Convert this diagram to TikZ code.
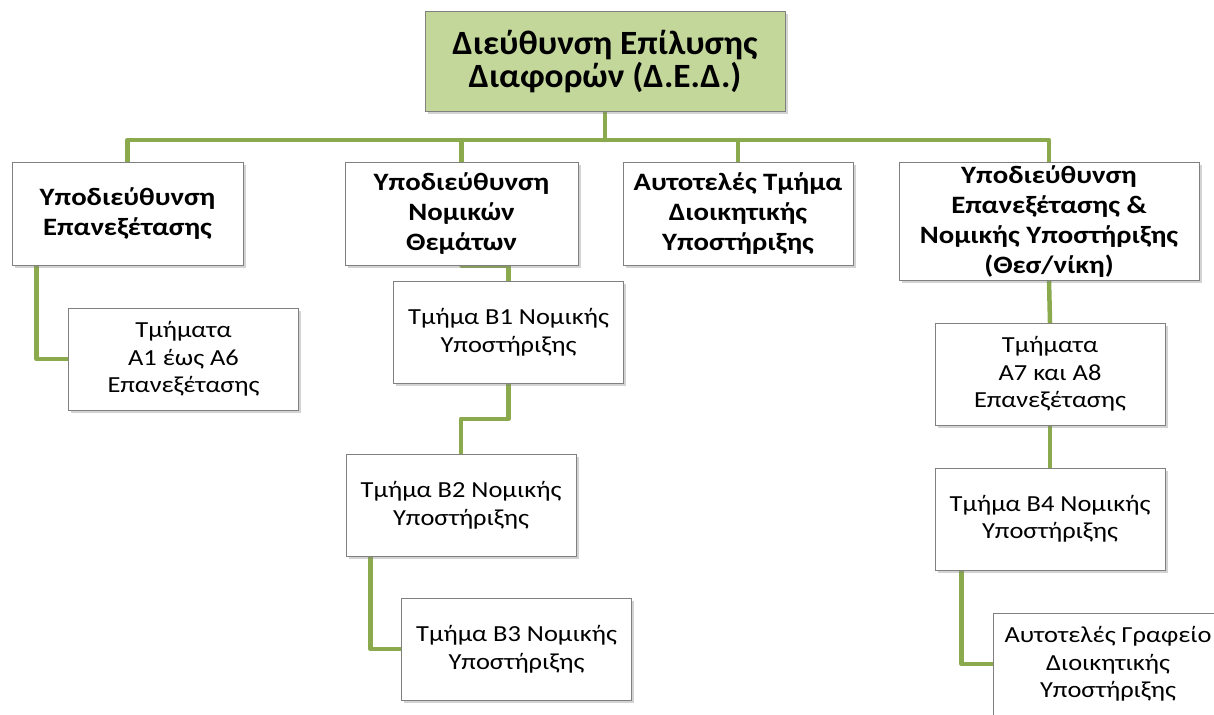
\documentclass[tikz,border=0pt]{standalone}
\usepackage{fontspec}
\setmainfont{Carlito}[FakeStretch=1.15]
\newfontfamily\headfont{Carlito}[FakeStretch=1.04]
\usetikzlibrary{calc,shadows,backgrounds}
\definecolor{linkgreen}{RGB}{139,170,78}
\definecolor{headfill}{RGB}{196,215,155}
\definecolor{boxgray}{RGB}{128,128,128}
\tikzset{
    every picture/.style={line width=0.5pt},
    box/.style={rectangle,draw=boxgray,line width=1pt,fill=white,align=center,inner sep=2pt,
        drop shadow={shadow xshift=2.5pt,shadow yshift=-2.5pt,opacity=0.35}},
    head/.style={box,fill=headfill,minimum width=360pt,minimum height=100pt,
        font=\headfont\fontsize{34}{33}\selectfont\bfseries},
    subdir/.style={box,minimum width=231pt,minimum height=102pt,
        font=\fontsize{25}{30}\selectfont\bfseries},
    dept/.style={box,minimum width=230pt,minimum height=102pt,
        font=\fontsize{23}{27.5}\selectfont},
    link/.style={draw=linkgreen,line width=4.5pt,line cap=round,line join=round}
}

\begin{document}
\begin{tikzpicture}[x=1pt,y=-1pt]
    \clip (0,0) rectangle (1214,714);
    \useasboundingbox (0,0) rectangle (1214,714);

    % Direction
    \node[head] (ded) at (605,62) {Διεύθυνση Επίλυσης\\Διαφορών (Δ.Ε.Δ.)};

    % Sub-directions
    \node[subdir] (sdA) at (127.5,214) {Υποδιεύθυνση\\Επανεξέτασης};
    \node[subdir,minimum width=233pt] (sdB) at (461.5,214) {Υποδιεύθυνση\\Νομικών\\Θεμάτων};
    \node[subdir,minimum width=230pt] (atC) at (738,214) {Αυτοτελές Τμήμα\\Διοικητικής\\Υποστήριξης};
    \node[subdir,minimum width=300pt,minimum height=117pt] (sdD) at (1049,221.5)
        {Υποδιεύθυνση\\Επανεξέτασης \&\\Νομικής Υποστήριξης\\(Θεσ/νίκη)};

    % Departments
    \node[dept] (tmA) at (183.5,359) {Τμήματα\\Α1 έως Α6\\Επανεξέτασης};
    \node[dept] (tmB1) at (508.5,332.5) {Τμήμα Β1 Νομικής\\Υποστήριξης};
    \node[dept] (tmB2) at (461,505) {Τμήμα Β2 Νομικής\\Υποστήριξης};
    \node[dept] (tmB3) at (516.5,649) {Τμήμα Β3 Νομικής\\Υποστήριξης};
    \node[dept] (tmD1) at (1050,374) {Τμήματα\\Α7 και Α8\\Επανεξέτασης};
    \node[dept] (tmD2) at (1050,519) {Τμήμα Β4 Νομικής\\Υποστήριξης};
    \node[dept] (grD3) at (1108,664) {Αυτοτελές Γραφείο\\Διοικητικής\\Υποστήριξης};

    \coordinate (bus) at (605,140);

    % Connectors
    \begin{scope}[on background layer]
        \draw[link] (ded.south) -- (bus);
        \foreach \n in {sdA,sdB,atC,sdD}
            \draw[link] (bus) -| (\n.north);
        \draw[link] ($(sdA.south west)+(25,0)$) |- (tmA.west);
        \draw[link] (sdB.south) -| (tmB1.north);
        \draw[link] (tmB1.south) |- ($(tmB1.south)!.5!(tmB2.north)$) -| (tmB2.north);
        \draw[link] ($(tmB2.south west)+(25,0)$) |- (tmB3.west);
        \draw[link] (sdD.south) -- (tmD1.north);
        \draw[link] (tmD1.south) -- (tmD2.north);
        \draw[link] ($(tmD2.south west)+(27,0)$) |- (grD3.west);
    \end{scope}
\end{tikzpicture}
\end{document}
